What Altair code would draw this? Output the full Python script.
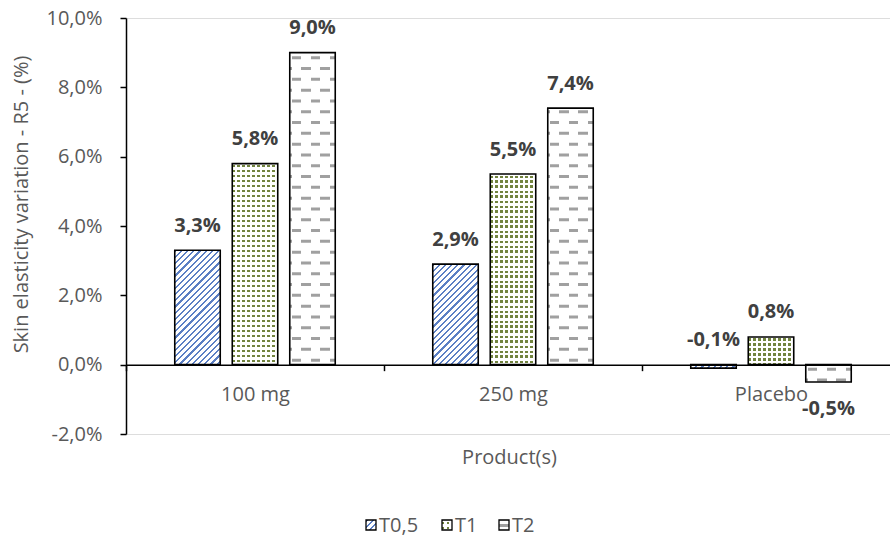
import altair as alt
import pandas as pd

# ---- data -----------------------------------------------------------------
products = ["100 mg", "250 mg", "Placebo"]
series = ["T0,5", "T1", "T2"]
t05 = [3.3, 2.9, -0.1]
t1 = [5.8, 5.5, 0.8]
t2 = [9.0, 7.4, -0.5]
y_ticks = [-2, 0, 2, 4, 6, 8, 10]

# ---- layout ---------------------------------------------------------------
FONT = "Open Sans"
PLOT_W, PLOT_H = 764, 416
BAND = 258                      # width of one product category in px
Y_MIN, Y_MAX = -2, 10
PX = PLOT_H / (Y_MAX - Y_MIN)   # px per percentage point
PAD_IN, PAD_OUT = 0.209, 0.848
STEP = BAND / (3 - PAD_IN + 2 * PAD_OUT)
BAR_W = STEP * (1 - PAD_IN)
TEXT_GREY = "#595959"
BLUE, OLIVE, GREY = "#5B7FC4", "#72843F", "#A0A0A0"
CLEAR = "rgba(255,255,255,0)"


def fmt(v):
    return f"{v:.1f}".replace(".", ",") + "%"


records = []
for s, vals in zip(series, [t05, t1, t2]):
    for p, v in zip(products, vals):
        above = v > -0.3
        records.append(dict(product=p, series=s, value=v, label=fmt(v),
                            above=above, anchor=max(v, 0) if above else v))
df = pd.DataFrame(records)

# dash rows of the "dashed horizontal" fill, stacked from the zero line outward
ROW_P, ROW_T, ROW_OFF = 10.8, 3.0, 3.0
row_records = []
for r in records:
    if r["series"] != "T2":
        continue
    h = abs(r["value"]) * PX
    sgn = 1 if r["value"] > 0 else -1
    k = 0
    while ROW_OFF + k * ROW_P + ROW_T <= h - 0.3:
        lo = ROW_OFF + k * ROW_P
        row_records.append(dict(product=r["product"], series=r["series"],
                                y0=sgn * lo / PX, y1=sgn * (lo + ROW_T) / PX, odd=k % 2))
        k += 1
rows_df = pd.DataFrame(row_records)


def stripe_fill(a, b, w, h, period, frac, on, off, phase=0.0):
    """Linear gradient giving stripes along s = a*x + b*y (pixels in the box)."""
    s_max = a * w + b * h
    c = s_max / ((a * w) ** 2 + (b * h) ** 2)
    stops = []
    s0 = phase - period
    while s0 < s_max:
        for lo, hi, col in ((s0, s0 + frac * period, on),
                            (s0 + frac * period, s0 + period, off)):
            lo, hi = max(lo, 0), min(hi, s_max)
            if hi > lo:
                stops.append(alt.GradientStop(offset=round(lo / s_max, 5), color=col))
                stops.append(alt.GradientStop(offset=round(hi / s_max, 5), color=col))
        s0 += period
    return alt.LinearGradient(gradient="linear", stops=stops,
                              x1=0, y1=0, x2=c * a * w, y2=c * b * h)


def pattern(s, w, h):
    if s == "T0,5":   # upward diagonal stripes
        return [stripe_fill(1, 1, w, h, 6.2, 0.36, BLUE, "white")]
    if s == "T1":     # dotted grid
        return [stripe_fill(0, 1, w, h, 5, 0.44, OLIVE, "white", 1.5),
                stripe_fill(1, 0, w, h, 5, 0.56, "white", CLEAR, 2.3)]
    return ["white"]


# ---- encodings ------------------------------------------------------------
x_axis = alt.Axis(title="Product(s)", offset=-(0 - Y_MIN) * PX, tickBand="extent",
                  labelAngle=0, labelFont=FONT, labelFontSize=20, labelColor=TEXT_GREY,
                  labelBaseline="alphabetic", labelPadding=30,
                  domainColor="black", domainWidth=1.5, tickColor="black",
                  tickWidth=1.5, tickSize=6, titleFont=FONT, titleFontSize=20,
                  titleColor=TEXT_GREY, titleFontWeight="normal",
                  titleBaseline="alphabetic", titleX=383, titleY=99, zindex=1)
y_axis = alt.Axis(title="Skin elasticity variation - R5 -  (%)", values=y_ticks,
                  labelExpr="(datum.value < 0 ? '-' : '') + replace(format(abs(datum.value), '.1f'), '.', ',') + '%'",
                  grid=False, labelFont=FONT, labelFontSize=20, labelColor=TEXT_GREY,
                  labelPadding=18, domainColor="black", domainWidth=1.5,
                  tickColor="black", tickWidth=1.5, tickSize=6,
                  titleFont=FONT, titleFontSize=20, titleColor=TEXT_GREY,
                  titleFontWeight="normal", titleAngle=270, titleAlign="center",
                  titleBaseline="alphabetic", titleX=-99, titleY=186, zindex=1)

X = alt.X("product:N", sort=products, axis=x_axis,
          scale=alt.Scale(domain=products, range=[0, BAND * 3], paddingInner=0, paddingOuter=0))
XO = alt.XOffset("series:N", sort=series,
                 scale=alt.Scale(domain=series, paddingInner=PAD_IN, paddingOuter=PAD_OUT))


def Y(field):
    return alt.Y(f"{field}:Q", axis=y_axis, scale=alt.Scale(domain=[Y_MIN, Y_MAX], nice=False))


layers = []
for r in records:
    h = max(abs(r["value"]) * PX, 1)
    for fill in pattern(r["series"], BAR_W, h):
        layers.append(
            alt.Chart(df)
            .transform_filter(f"datum.product == '{r['product']}' && datum.series == '{r['series']}'")
            .mark_bar(fill=fill, strokeWidth=0)
            .encode(x=X, xOffset=XO, y=Y("value"))
        )

# dashed rows, alternate rows shifted by half a dash period
for odd in (0, 1):
    dash = stripe_fill(1, 0, BAR_W, ROW_T, 19, 0.5, GREY, "white", 2 + 9.5 * odd)
    layers.append(
        alt.Chart(rows_df).transform_filter(f"datum.odd == {odd}")
        .mark_bar(fill=dash, strokeWidth=0)
        .encode(x=X, xOffset=XO, y=Y("y0"), y2=alt.Y2("y1"))
    )

# bar outlines
layers.append(alt.Chart(df).mark_bar(fillOpacity=0, stroke="black", strokeWidth=1.6)
              .encode(x=X, xOffset=XO, y=Y("value")))

# value labels
label_style = dict(font=FONT, fontSize=20, fontWeight="bold", color="#404040",
                   baseline="alphabetic")
layers.append(alt.Chart(df).transform_filter("datum.above")
              .mark_text(dy=-18.5, **label_style)
              .encode(x=X, xOffset=XO, y=Y("anchor"), text="label:N"))
layers.append(alt.Chart(df).transform_filter("!datum.above")
              .mark_text(dy=33, **label_style)
              .encode(x=X, xOffset=XO, y=Y("anchor"), text="label:N"))

# legend (bottom centre)
legend_x = [240, 316, 373]
LEG_Y = 502
SW = 10
legend_fill = {
    "T0,5": pattern("T0,5", SW, SW),
    "T1": pattern("T1", SW, SW),
    "T2": [stripe_fill(0, 1, SW, SW, SW, 0.3, GREY, "white", 3.5)],
}
for s, lx in zip(series, legend_x):
    ldf = pd.DataFrame({"series": [s]})
    box = dict(x=alt.value(lx), x2=alt.value(lx + SW), y=alt.value(LEG_Y), y2=alt.value(LEG_Y + SW))
    for fill in legend_fill[s]:
        layers.append(alt.Chart(ldf).mark_rect(fill=fill, strokeWidth=0).encode(**box))
    layers.append(alt.Chart(ldf).mark_rect(fillOpacity=0, stroke="black", strokeWidth=1.3)
                  .encode(**box))
    layers.append(alt.Chart(ldf).mark_text(align="left", baseline="middle", font=FONT,
                                           fontSize=20, color=TEXT_GREY)
                  .encode(x=alt.value(lx + SW + 3), y=alt.value(LEG_Y + SW / 2 + 1),
                          text="series:N"))

chart = (
    alt.layer(*layers)
    .properties(width=PLOT_W, height=PLOT_H,
                padding={"left": 126, "top": 18, "right": 0, "bottom": 106},
                autosize=alt.AutoSizeParams(type="none"))
    .configure_view(strokeWidth=0)
    .configure(background="white", font=FONT)
)

chart.save("out.html", embed_options={"renderer": "svg", "actions": False})
